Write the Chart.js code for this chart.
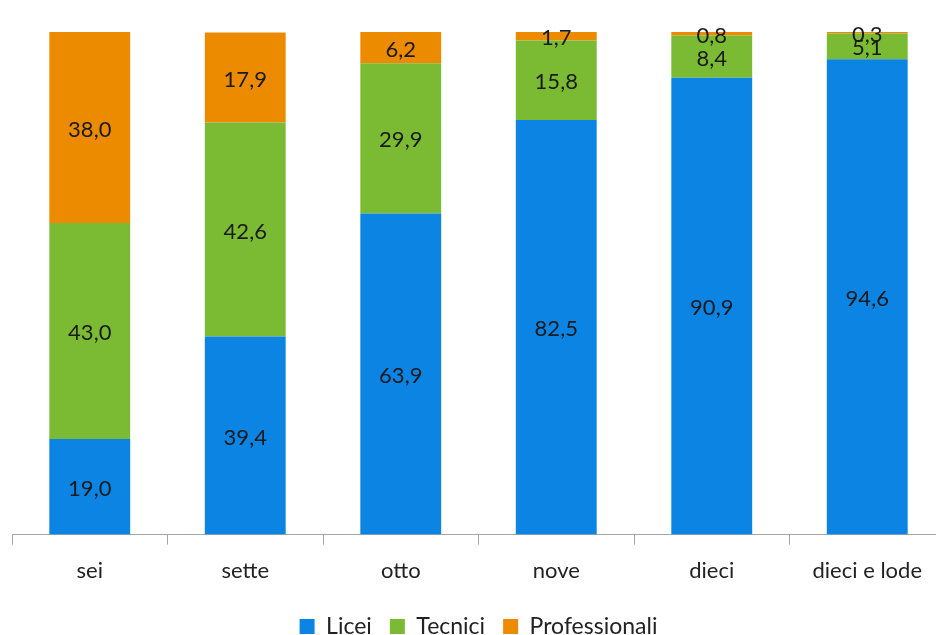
<!DOCTYPE html>
<html>
<head>
<meta charset="utf-8">
<script src="https://cdn.jsdelivr.net/npm/chart.js@4"></script>
<style>
  html, body { margin: 0; padding: 0; overflow: hidden; background: #fff; }
  #wrap { width: 957px; height: 648px; position: relative; }
</style>
</head>
<body>
<div id="wrap"><canvas id="votiChart"></canvas></div>
<script>
const categories = ['sei', 'sette', 'otto', 'nove', 'dieci', 'dieci e lode'];
const licei = [19.0, 39.4, 63.9, 82.5, 90.9, 94.6];
const tecnici = [43.0, 42.6, 29.9, 15.8, 8.4, 5.1];
const professionali = [38.0, 17.9, 6.2, 1.7, 0.8, 0.3];

const fontFamily = 'Lato, "Open Sans", sans-serif';

// etichette dei valori al centro di ogni segmento
const valueLabels = {
    id: 'valueLabels',
    afterDatasetsDraw(chart) {
        const ctx = chart.ctx;
        ctx.save();
        ctx.font = `22px ${fontFamily}`;
        ctx.fillStyle = '#1a1a1a';
        ctx.textAlign = 'center';
        ctx.textBaseline = 'middle';
        chart.data.datasets.forEach((ds, i) => {
            const meta = chart.getDatasetMeta(i);
            meta.data.forEach((bar, j) => {
                const y = (bar.y + bar.base) / 2;
                ctx.fillText(ds.data[j].toFixed(1).replace('.', ','), bar.x, y + 2);
            });
        });
        ctx.restore();
    },
};

new Chart(document.getElementById('votiChart'), {
    type: 'bar',
    data: {
        labels: categories,
        datasets: [
            { label: 'Licei', data: licei, backgroundColor: '#0b84e3' },
            { label: 'Tecnici', data: tecnici, backgroundColor: '#7bbb33' },
            { label: 'Professionali', data: professionali, backgroundColor: '#ec8b00' },
        ],
    },
    options: {
        responsive: true,
        maintainAspectRatio: false,
        animation: false,
        categoryPercentage: 1,
        barPercentage: 0.52,
        layout: {
            padding: { top: 32, left: 12, right: 12, bottom: 0 },
        },
        scales: {
            x: {
                stacked: true,
                grid: {
                    display: true,
                    offset: true,
                    drawOnChartArea: false,
                    drawTicks: true,
                    tickLength: 10,
                    color: '#a6a6a6',
                },
                border: { display: true, color: '#a6a6a6', width: 1 },
                ticks: {
                    color: '#222',
                    padding: 13,
                    font: { family: fontFamily, size: 22 },
                },
            },
            y: {
                stacked: true,
                display: false,
                min: 0,
                max: 100,
            },
        },
        plugins: {
            legend: {
                position: 'bottom',
                labels: {
                    boxWidth: 15,
                    boxHeight: 15,
                    padding: 18,
                    color: '#222',
                    font: { family: fontFamily, size: 23 },
                },
            },
            tooltip: { enabled: false },
        },
    },
    plugins: [valueLabels],
});
</script>
</body>
</html>
